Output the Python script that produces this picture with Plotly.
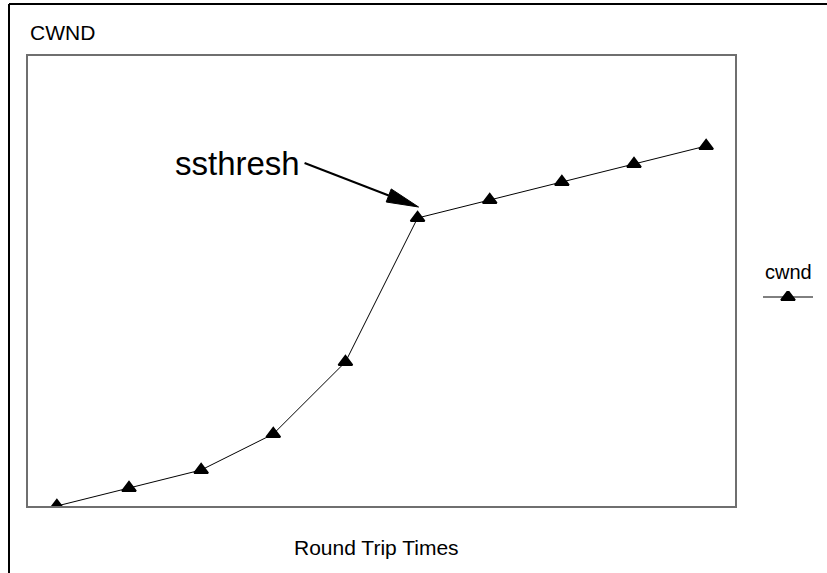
import math
import plotly.graph_objects as go

# Congestion window per round trip: slow start doubling, then linear growth
rtt = [1, 2, 3, 4, 5, 6, 7, 8, 9, 10]
cwnd = [0, 1, 2, 4, 8, 16, 17, 18, 19, 20]
ssthresh_index = 5

x_title = "Round Trip Times"
y_title = "CWND"
series_name = "cwnd"
note_text = "ssthresh"

# Figure geometry (pixels)
W, H = 827, 573
PLOT_L, PLOT_R, PLOT_T, PLOT_B = 28, 735, 56, 506
X_RANGE = [0.6, 10.4]
Y_RANGE = [0, 25]
FONT = "Arial, 'Liberation Sans', sans-serif"
MARKER = dict(symbol="triangle-up", size=12, color="black",
              line=dict(color="black", width=2))


def px_to_data(px, py):
    x = X_RANGE[0] + (px - PLOT_L) / (PLOT_R - PLOT_L) * (X_RANGE[1] - X_RANGE[0])
    y = Y_RANGE[0] + (PLOT_B - py) / (PLOT_B - PLOT_T) * (Y_RANGE[1] - Y_RANGE[0])
    return x, y


def data_to_px(x, y):
    px = PLOT_L + (x - X_RANGE[0]) / (X_RANGE[1] - X_RANGE[0]) * (PLOT_R - PLOT_L)
    py = PLOT_B - (y - Y_RANGE[0]) / (Y_RANGE[1] - Y_RANGE[0]) * (PLOT_B - PLOT_T)
    return px, py


def px_to_paper(px, py):
    return px / W, 1 - py / H


fig = go.Figure()

fig.add_trace(go.Scatter(
    x=rtt, y=cwnd, mode="lines+markers", name=series_name,
    line=dict(color="black", width=1),
    marker=MARKER,
    showlegend=False, cliponaxis=True,
))

# Legend sample (line with a centred marker) on its own small axes
fig.add_trace(go.Scatter(
    x=[0, 0.5, 1], y=[0, 0, 0], mode="lines+markers",
    line=dict(color="black", width=1),
    marker=dict(MARKER, opacity=[0, 1, 0]),
    xaxis="x2", yaxis="y2", showlegend=False, hoverinfo="skip",
))

axis_common = dict(showgrid=False, zeroline=False, showticklabels=False, ticks="")

lx0, _ = px_to_paper(PLOT_L, 0)
lx1, _ = px_to_paper(PLOT_R, 0)
_, ly0 = px_to_paper(0, PLOT_B)
_, ly1 = px_to_paper(0, PLOT_T)

fig.update_layout(
    width=W, height=H,
    margin=dict(l=0, r=0, t=0, b=0),
    paper_bgcolor="white", plot_bgcolor="white",
    font=dict(family=FONT, color="black"),
    xaxis=dict(domain=[lx0, lx1], range=X_RANGE, showline=True, mirror=True,
               linecolor="#6f6f6f", linewidth=2, **axis_common),
    yaxis=dict(domain=[ly0, ly1], range=Y_RANGE, showline=True, mirror=True,
               linecolor="#6f6f6f", linewidth=2, **axis_common),
    xaxis2=dict(domain=[763 / W, 813 / W], range=[0, 1], anchor="y2",
                visible=False),
    yaxis2=dict(domain=[1 - 303 / H, 1 - 291 / H], range=[-1, 1], anchor="x2",
                visible=False),
)

# Axis titles and legend label
cx, cy = px_to_paper(PLOT_L, 32)
fig.add_annotation(text=y_title, x=cx, y=cy, xref="paper", yref="paper",
                   xanchor="left", yanchor="middle", showarrow=False,
                   font=dict(size=21, family=FONT))
tx, ty = px_to_paper((PLOT_L + PLOT_R) / 2 - 5, 547)
fig.add_annotation(text=x_title, x=tx, y=ty, xref="paper", yref="paper",
                   xanchor="center", yanchor="middle", showarrow=False,
                   font=dict(size=21, family=FONT))
gx, gy = px_to_paper(788, 272)
fig.add_annotation(text=series_name, x=gx, y=gy, xref="paper", yref="paper",
                   xanchor="center", yanchor="middle", showarrow=False,
                   font=dict(size=20, family=FONT))

# Outer frame edges
fx, fy = px_to_paper(9, 4)
fig.add_shape(type="line", xref="paper", yref="paper", x0=fx, y0=fy, x1=fx, y1=-0.05,
              line=dict(color="black", width=2))
fig.add_shape(type="line", xref="paper", yref="paper", x0=fx, y0=fy, x1=1.05, y1=fy,
              line=dict(color="black", width=2))

# ssthresh label with an arrow pointing at the threshold point
px_pt, py_pt = data_to_px(rtt[ssthresh_index], cwnd[ssthresh_index])
tip = (px_pt + 1, py_pt - 11)
tail = (tip[0] - 114, tip[1] - 44)
dx, dy = tip[0] - tail[0], tip[1] - tail[1]
norm = math.hypot(dx, dy)
ux, uy = dx / norm, dy / norm
head_len, head_half = 32, 7
base = (tip[0] - head_len * ux, tip[1] - head_len * uy)
c1 = (base[0] - head_half * uy, base[1] + head_half * ux)
c2 = (base[0] + head_half * uy, base[1] - head_half * ux)

t_d = px_to_data(*tail)
b_d = px_to_data(*base)
fig.add_shape(type="line", xref="x", yref="y", x0=t_d[0], y0=t_d[1], x1=b_d[0], y1=b_d[1],
              line=dict(color="black", width=2))
pts = [px_to_data(*p) for p in (tip, c1, c2)]
path = "M {} {} L {} {} L {} {} Z".format(*[v for p in pts for v in p])
fig.add_shape(type="path", xref="x", yref="y", path=path,
              fillcolor="black", line=dict(color="black", width=1))

nx, ny = px_to_data(tail[0] - 3, 164)
fig.add_annotation(text=note_text, x=nx, y=ny, xref="x", yref="y",
                   xanchor="right", yanchor="middle", showarrow=False,
                   font=dict(size=33, family=FONT))

fig.write_html("out.html")
